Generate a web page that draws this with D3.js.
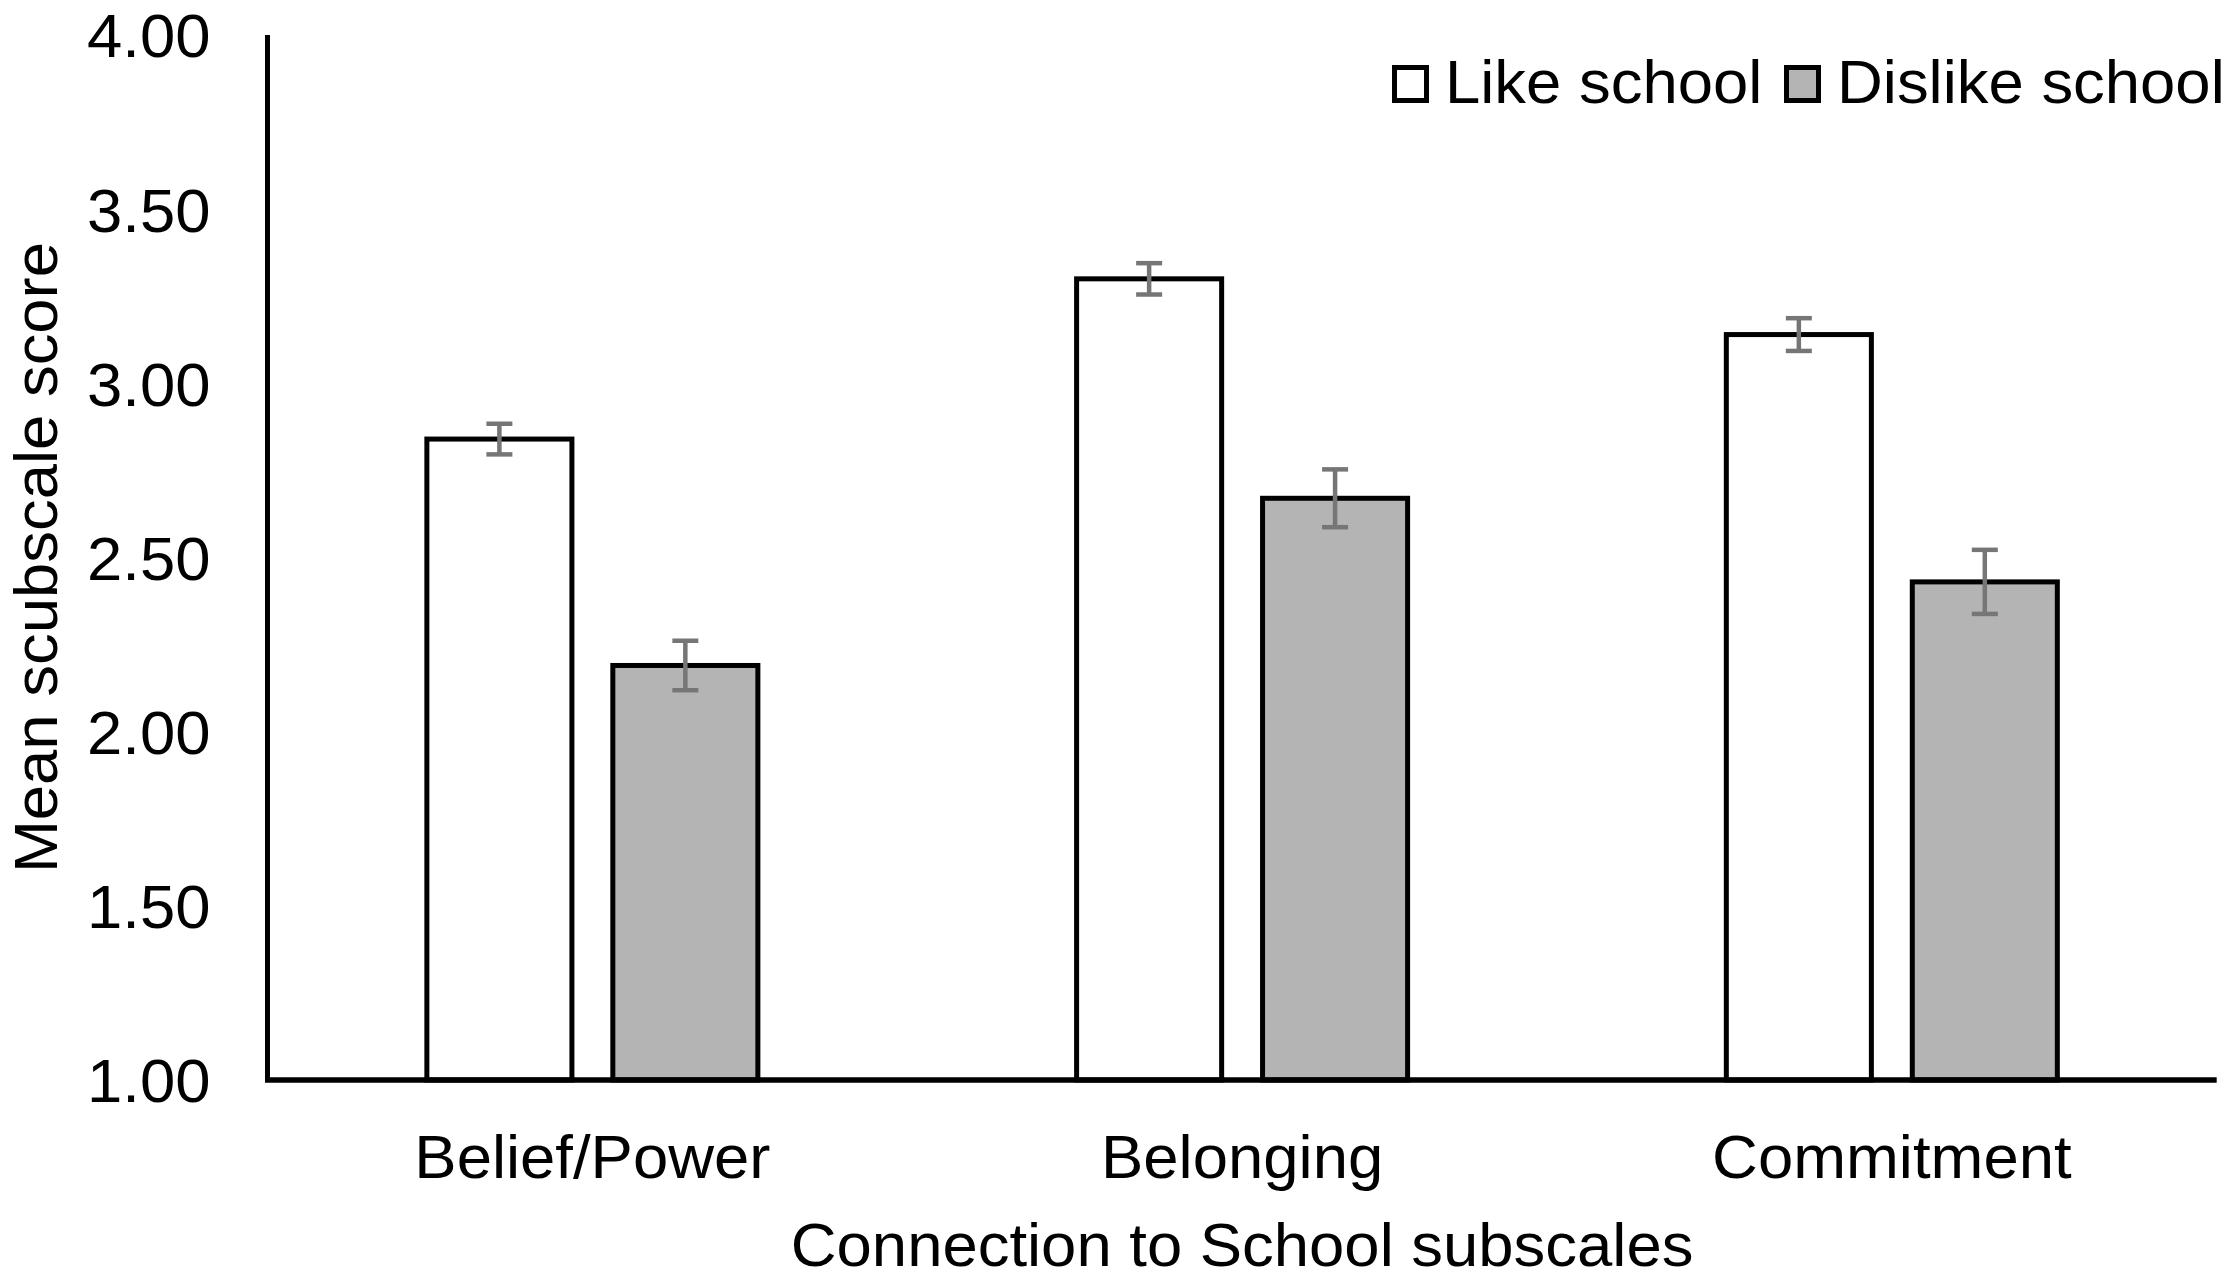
<!DOCTYPE html>
<html>
<head>
<meta charset="utf-8">
<script src="https://cdn.jsdelivr.net/npm/d3@7/dist/d3.min.js"></script>
<style>
  html, body { margin: 0; padding: 0; background: #ffffff; }
  svg { display: block; }
  text { font-family: "Liberation Sans", Arial, Helvetica, sans-serif; fill: #000; }
</style>
</head>
<body>
<svg id="chart" width="2231" height="1282"></svg>
<script>
// ---- data ----
const categories = ["Belief/Power", "Belonging", "Commitment"];
const seriesNames = ["Like school", "Dislike school"];
const likeValues = [2.84, 3.30, 3.14];
const dislikeValues = [2.19, 2.67, 2.43];
const likeErrors = [0.044, 0.045, 0.047];
const dislikeErrors = [0.071, 0.083, 0.092];
const yTicks = [1.00, 1.50, 2.00, 2.50, 3.00, 3.50, 4.00];
const xTitle = "Connection to School subscales";
const yTitle = "Mean scubscale score";

(function () {
const seriesValues = [likeValues, dislikeValues];
const seriesErrors = [likeErrors, dislikeErrors];
const seriesFill = ["#ffffff", "#b4b4b4"];
const stretchK = 1.04;

const rows = [];
categories.forEach((c, ci) => {
  seriesNames.forEach((s, si) => {
    rows.push({ cat: c, series: s, si: si, value: seriesValues[si][ci], err: seriesErrors[si][ci] });
  });
});

// horizontally widen text about its anchor point (reference glyphs are slightly wide)
function stretch(sel) {
  sel.each(function () {
    const t = d3.select(this);
    const x = +(t.attr("x") || 0), yy = +(t.attr("y") || 0);
    const prev = t.attr("transform") || "";
    t.attr("transform", `${prev} translate(${x},${yy}) scale(${stretchK},1) translate(${-x},${-yy})`);
  });
}

// ---- layout ----
const svg = d3.select("#chart");
const pLeft = 267.5, pRight = 2216.7, pTop = 35, pBottom = 1080;
const fontSize = 61;

const x0 = d3.scaleBand().domain(categories).range([pLeft, pRight]).paddingInner(0).paddingOuter(0);
const x1 = d3.scaleBand().domain(seriesNames).range([0, x0.bandwidth()]).paddingInner(0.22).paddingOuter(0.857);
const y = d3.scaleLinear().domain([1, 4]).range([pBottom, pTop]);

svg.append("rect").attr("width", 2231).attr("height", 1282).attr("fill", "#fff");

// y tick labels
const yAxis = d3.axisLeft(y).tickValues(yTicks).tickFormat(d3.format(".2f")).tickSize(0).tickPadding(57);
const yg = svg.append("g").attr("transform", `translate(${pLeft},0)`).call(yAxis);
yg.select(".domain").remove();
yg.selectAll("text")
  .attr("font-size", fontSize)
  .attr("font-family", "'Liberation Sans', Arial, sans-serif")
  .attr("fill", "#000")
  .attr("dy", "0.36em")
  .call(stretch);

// bars
const bars = svg.append("g");
bars.selectAll("rect.bar")
  .data(rows)
  .join("rect")
  .attr("class", "bar")
  .attr("x", d => x0(d.cat) + x1(d.series))
  .attr("y", d => y(d.value))
  .attr("width", x1.bandwidth())
  .attr("height", d => y(1) - y(d.value))
  .attr("fill", d => seriesFill[d.si])
  .attr("stroke", "#000")
  .attr("stroke-width", 5);

// error bars
const errG = svg.append("g").attr("stroke", "#767676").attr("stroke-width", 4.5).attr("fill", "none");
const capHalf = 13;
rows.forEach(d => {
  const cx = x0(d.cat) + x1(d.series) + x1.bandwidth() / 2;
  const y1 = y(d.value + d.err), y2 = y(d.value - d.err);
  errG.append("line").attr("x1", cx).attr("x2", cx).attr("y1", y1).attr("y2", y2);
  errG.append("line").attr("x1", cx - capHalf).attr("x2", cx + capHalf).attr("y1", y1).attr("y2", y1);
  errG.append("line").attr("x1", cx - capHalf).attr("x2", cx + capHalf).attr("y1", y2).attr("y2", y2);
});

// axis lines
svg.append("line").attr("x1", pLeft).attr("x2", pLeft).attr("y1", pTop).attr("y2", pBottom)
  .attr("stroke", "#000").attr("stroke-width", 5);
const xAxis = d3.axisBottom(x0).tickSize(0).tickPadding(0);
const xg = svg.append("g").attr("transform", `translate(0,${pBottom})`).call(xAxis);
xg.select(".domain").attr("stroke", "#000").attr("stroke-width", 5.5).attr("d", `M${pLeft - 2.5},0H${pRight}`);
xg.selectAll("text")
  .attr("font-size", fontSize)
  .attr("font-family", "'Liberation Sans', Arial, sans-serif")
  .attr("fill", "#000")
  .attr("y", 98)
  .attr("dy", 0)
  .call(stretch);

// axis titles
svg.append("text")
  .attr("x", (pLeft + pRight) / 2)
  .attr("y", 1266)
  .attr("text-anchor", "middle")
  .attr("font-size", fontSize)
  .text(xTitle)
  .call(stretch);

svg.append("text")
  .attr("transform", `translate(57,${(pTop + pBottom) / 2}) rotate(-90)`)
  .attr("text-anchor", "middle")
  .attr("font-size", fontSize)
  .text(yTitle)
  .call(stretch);

// legend
const legend = svg.append("g");
const legendX = [1392, 1784];
seriesNames.forEach((s, i) => {
  legend.append("rect")
    .attr("x", legendX[i] + 2.5).attr("y", 67.5)
    .attr("width", 32).attr("height", 33)
    .attr("fill", seriesFill[i]).attr("stroke", "#000").attr("stroke-width", 5);
  legend.append("text")
    .attr("x", legendX[i] + 53).attr("y", 103)
    .attr("font-size", fontSize)
    .text(s)
    .call(stretch);
});
})();
</script>
</body>
</html>
